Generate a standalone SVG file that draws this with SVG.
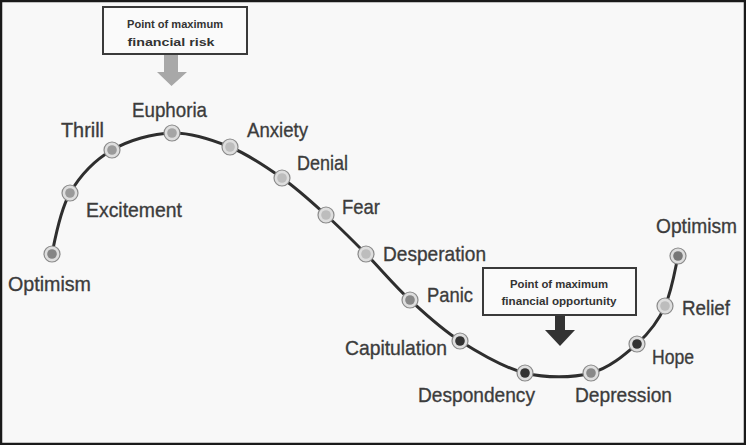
<svg xmlns="http://www.w3.org/2000/svg" width="746" height="445" viewBox="0 0 746 445">
<style>
.lbl{font-family:"Liberation Sans",Arial,sans-serif;font-size:21px;fill:#3c3c3c;stroke:#3c3c3c;stroke-width:0.35}
.box{fill:#fafafa;stroke:#3a3a3a;stroke-width:2}
.bt{font-family:"Liberation Sans",Arial,sans-serif;font-size:11px;font-weight:bold;fill:#333333;text-anchor:middle}
.ring{fill:#dedede;stroke:#8a8a8a;stroke-width:1.2}
.curve{fill:none;stroke:#2e2e2e;stroke-width:3;stroke-linecap:round}
</style>
<rect x="1" y="1" width="744" height="443" fill="#f8f8f8" stroke="#1a1a1a" stroke-width="2.5"/>
<g id="connectors">
<path class="curve" d="M52,254 C55,239 60,210.3 70,193 C80,175.7 95,160 112,150 C129,140 152.3,133.5 172,133 C191.7,132.5 211.7,139.5 230,147 C248.3,154.5 266,166.7 282,178 C298,189.3 312,202.3 326,215 C340,227.7 352,239.8 366,254 C380,268.2 394.3,285.5 410,300 C425.7,314.5 440.8,328.8 460,341 C479.2,353.2 503.2,367.7 525,373 C546.8,378.3 572.2,378 591,373 C609.8,368 625.2,354.3 637,344 C649,333 659,320 665,306 C672,290 675,270 678,256"/>
<polygon points="164,55 178,55 178,72 187,72 171.5,86 157,72 164,72" fill="#a8a8a8"/>
<polygon points="555,315 565,315 565,330 575,330 560,346 545,330 555,330" fill="#333333"/>
</g>
<g id="box-risk">
<rect class="box" x="103" y="7" width="144" height="47"/>
<text class="bt" x="175" y="28" textLength="96" lengthAdjust="spacingAndGlyphs">Point of maximum</text>
<text class="bt" x="171" y="46" textLength="87" lengthAdjust="spacingAndGlyphs">financial risk</text>
</g>
<g id="box-opportunity">
<rect class="box" x="483" y="268" width="153" height="47"/>
<text class="bt" x="559" y="288" textLength="98" lengthAdjust="spacingAndGlyphs">Point of maximum</text>
<text class="bt" x="559" y="305" textLength="115" lengthAdjust="spacingAndGlyphs">financial opportunity</text>
</g>
<g id="n-optimism1"><circle class="ring" cx="52" cy="254" r="8"/><circle cx="52" cy="254" r="4.8" fill="#858585"/><text class="lbl" x="8" y="291" textLength="83" lengthAdjust="spacingAndGlyphs">Optimism</text></g>
<g id="n-excitement"><circle class="ring" cx="70" cy="193" r="8"/><circle cx="70" cy="193" r="4.8" fill="#9a9a9a"/><text class="lbl" x="86" y="217" textLength="96" lengthAdjust="spacingAndGlyphs">Excitement</text></g>
<g id="n-thrill"><circle class="ring" cx="112" cy="150" r="8"/><circle cx="112" cy="150" r="4.8" fill="#9a9a9a"/><text class="lbl" x="61" y="137" textLength="43" lengthAdjust="spacingAndGlyphs">Thrill</text></g>
<g id="n-euphoria"><circle class="ring" cx="172" cy="133" r="8"/><circle cx="172" cy="133" r="4.8" fill="#a5a5a5"/><text class="lbl" x="132" y="117" textLength="75" lengthAdjust="spacingAndGlyphs">Euphoria</text></g>
<g id="n-anxiety"><circle class="ring" cx="230" cy="147" r="8"/><circle cx="230" cy="147" r="4.8" fill="#bdbdbd"/><text class="lbl" x="247" y="137" textLength="61" lengthAdjust="spacingAndGlyphs">Anxiety</text></g>
<g id="n-denial"><circle class="ring" cx="282" cy="178" r="8"/><circle cx="282" cy="178" r="4.8" fill="#bdbdbd"/><text class="lbl" x="297" y="170" textLength="51" lengthAdjust="spacingAndGlyphs">Denial</text></g>
<g id="n-fear"><circle class="ring" cx="326" cy="215" r="8"/><circle cx="326" cy="215" r="4.8" fill="#bdbdbd"/><text class="lbl" x="342" y="214" textLength="38" lengthAdjust="spacingAndGlyphs">Fear</text></g>
<g id="n-desperation"><circle class="ring" cx="366" cy="254" r="8"/><circle cx="366" cy="254" r="4.8" fill="#bdbdbd"/><text class="lbl" x="383" y="261" textLength="103" lengthAdjust="spacingAndGlyphs">Desperation</text></g>
<g id="n-panic"><circle class="ring" cx="410" cy="300" r="8"/><circle cx="410" cy="300" r="4.8" fill="#888888"/><text class="lbl" x="427" y="302" textLength="46" lengthAdjust="spacingAndGlyphs">Panic</text></g>
<g id="n-capitulation"><circle class="ring" cx="460" cy="341" r="8"/><circle cx="460" cy="341" r="4.8" fill="#333333"/><text class="lbl" x="345" y="355" textLength="102" lengthAdjust="spacingAndGlyphs">Capitulation</text></g>
<g id="n-despondency"><circle class="ring" cx="525" cy="373" r="8"/><circle cx="525" cy="373" r="4.8" fill="#333333"/><text class="lbl" x="418" y="402" textLength="117" lengthAdjust="spacingAndGlyphs">Despondency</text></g>
<g id="n-depression"><circle class="ring" cx="591" cy="373" r="8"/><circle cx="591" cy="373" r="4.8" fill="#888888"/><text class="lbl" x="575" y="402" textLength="97" lengthAdjust="spacingAndGlyphs">Depression</text></g>
<g id="n-hope"><circle class="ring" cx="637" cy="344" r="8"/><circle cx="637" cy="344" r="4.8" fill="#333333"/><text class="lbl" x="652" y="364" textLength="42" lengthAdjust="spacingAndGlyphs">Hope</text></g>
<g id="n-relief"><circle class="ring" cx="665" cy="306" r="8"/><circle cx="665" cy="306" r="4.8" fill="#bdbdbd"/><text class="lbl" x="682" y="315" textLength="48" lengthAdjust="spacingAndGlyphs">Relief</text></g>
<g id="n-optimism2"><circle class="ring" cx="678" cy="256" r="8"/><circle cx="678" cy="256" r="4.8" fill="#777777"/><text class="lbl" x="656" y="233" textLength="81" lengthAdjust="spacingAndGlyphs">Optimism</text></g>
</svg>
